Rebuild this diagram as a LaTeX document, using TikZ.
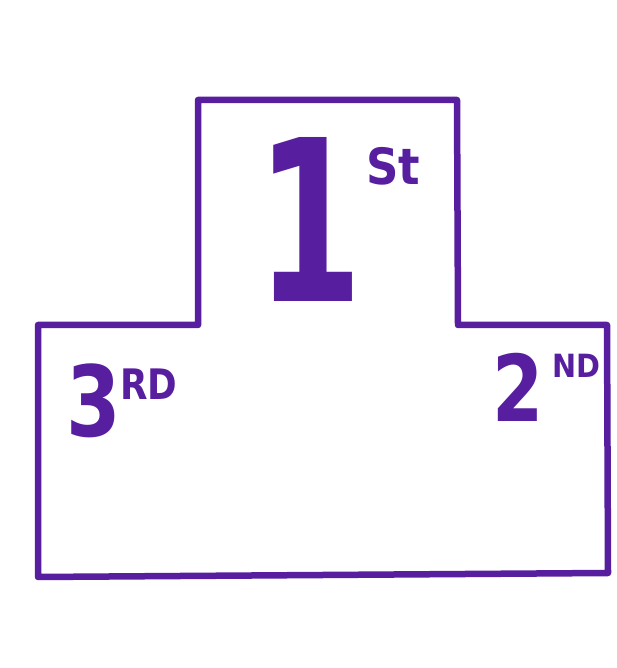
\documentclass[tikz,border=0pt]{standalone}
\usepackage{fontspec}
\setmainfont{DejaVu Sans}
\definecolor{ink}{RGB}{88,30,160}
\begin{document}
\begin{tikzpicture}[x=1pt,y=1pt,
  outline/.style={draw=ink,line width=6.5pt,line join=round,line cap=round},
  lbl/.style={text=ink,inner sep=0pt,font=\bfseries}]
\useasboundingbox[fill=white] (0,0) rectangle (616,668);
\draw[outline] (198,343) -- (198,568) -- (457,568) -- (458,343) -- (607,343)
  -- (608,95) -- (38,91) -- (38,343) -- cycle;
\node[lbl,anchor=base,font=\bfseries\fontsize{225}{225}\selectfont,xscale=0.68] (first) at (310,366) {\makebox[0.54em]{1}};
\node[lbl,anchor=base west,font=\bfseries\fontsize{50}{50}\selectfont,xscale=0.9] (st) at (366,483) {St};
\node[lbl,anchor=base,font=\bfseries\fontsize{98}{98}\selectfont,xscale=0.8] (third) at (94,231) {3};
\node[lbl,anchor=base west,font=\bfseries\fontsize{42}{42}\selectfont,xscale=0.85] (rd) at (120,268) {RD};
\node[lbl,anchor=base,font=\bfseries\fontsize{92}{92}\selectfont,xscale=0.8] (second) at (518,246) {2};
\node[lbl,anchor=base west,font=\bfseries\fontsize{32}{32}\selectfont,xscale=0.9] (nd) at (552,290) {ND};
\end{tikzpicture}
\end{document}
